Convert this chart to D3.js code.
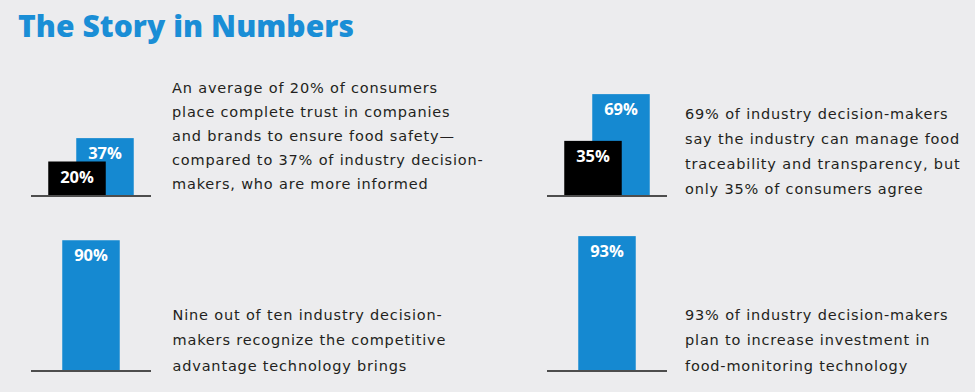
<!DOCTYPE html>
<meta charset="utf-8" />
<script src="https://d3js.org/d3.v7.min.js"></script>
<style>
  body { margin: 0; background: #ececee; }
  svg { display: block; }
</style>
<body>
<div id="chart"></div>
<script>
  // one small chart per panel
  const panelIds = ["trust", "traceability", "advantage", "investment"];
  const consumerValues = [20, 35, null, null];
  const industryValues = [37, 69, 90, 93];
  const captions = [
    ["An average of 20% of consumers", "place complete trust in companies", "and brands to ensure food safety\u2014", "compared to 37% of industry decision-", "makers, who are more informed"],
    ["69% of industry decision-makers", "say the industry can manage food", "traceability and transparency, but", "only 35% of consumers agree"],
    ["Nine out of ten industry decision-", "makers recognize the competitive", "advantage technology brings"],
    ["93% of industry decision-makers", "plan to increase investment in", "food-monitoring technology"]
  ];

  const width = 975, height = 392;
  const blue = "#1589d1";

  // panel placement: baseline start x, baseline y, caption x, first caption baseline, line gap
  const layout = [
    { x: 31, y: 196, tx: 172, ty: 93, gap: 24 },
    { x: 547, y: 196, tx: 685, ty: 118.5, gap: 25.3 },
    { x: 31, y: 371, tx: 172.5, ty: 319.5, gap: 25.7 },
    { x: 547, y: 371, tx: 685, ty: 319.5, gap: 25.7 }
  ];
  const lineW = 120, barW = 57.5;

  const svg = d3.select("#chart").append("svg")
    .attr("width", width)
    .attr("height", height);

  svg.append("rect").attr("width", width).attr("height", height).attr("fill", "#ececee");

  const title = svg.append("text")
    .attr("x", 18)
    .attr("y", 37)
    .attr("fill", "#1a8ed6")
    .attr("font-family", "'Open Sans', sans-serif")
    .attr("font-weight", 800)
    .attr("font-size", "30px")
    .text("The Story in Numbers");
  // stretch to the width of the original heading
  const tw = title.node().getComputedTextLength();
  title.attr("letter-spacing", (336 - tw) / 19);

  // bar height: small offset so tiny values still hold their label
  const h = d3.scaleLinear().domain([0, 100]).range([7, 144.5]);
  const pos = d3.scalePoint().domain(["consumers", "industry"]).range([46, 74]);

  let spacing = null;

  panelIds.forEach((id, i) => {
    const L = layout[i];
    const g = svg.append("g").attr("id", id).attr("transform", `translate(${L.x},${L.y})`);

    const bars = [];
    if (industryValues[i] != null) bars.push({ key: "industry", v: industryValues[i], color: blue });
    if (consumerValues[i] != null) bars.push({ key: "consumers", v: consumerValues[i], color: "#000" });
    const single = bars.length === 1;

    const bg = g.selectAll("g.bar").data(bars).enter().append("g").attr("class", "bar");

    bg.append("rect")
      .attr("x", d => (single ? lineW / 2 : pos(d.key)) - barW / 2)
      .attr("y", d => -h(d.v))
      .attr("width", barW)
      .attr("height", d => h(d.v))
      .attr("fill", d => d.color);

    bg.append("text")
      .attr("x", d => (single ? lineW / 2 : pos(d.key)))
      .attr("y", d => -h(d.v) + 21)
      .attr("text-anchor", "middle")
      .attr("fill", "#fff")
      .attr("font-family", "'Open Sans', sans-serif")
      .attr("font-weight", 700)
      .attr("font-size", "16.5px")
      .text(d => d.v + "%");

    g.append("line")
      .attr("x1", 0).attr("x2", lineW)
      .attr("y1", 0).attr("y2", 0)
      .attr("stroke", "#4d4d4d")
      .attr("stroke-width", 2);

    const lines = svg.append("g")
      .selectAll("text")
      .data(captions[i])
      .enter()
      .append("text")
      .attr("x", L.tx)
      .attr("y", (d, k) => L.ty + k * L.gap)
      .attr("fill", "#231f20")
      .attr("font-family", "'DejaVu Sans', sans-serif")
      .attr("font-size", "14.5px")
      .text(d => d);

    // first caption line of the first panel is ~265px wide in the original
    if (spacing === null) {
      const w0 = lines.node().getComputedTextLength();
      spacing = (265 - w0) / (captions[0][0].length - 1);
    }
    lines.attr("letter-spacing", spacing);
  });
</script>
</body>
